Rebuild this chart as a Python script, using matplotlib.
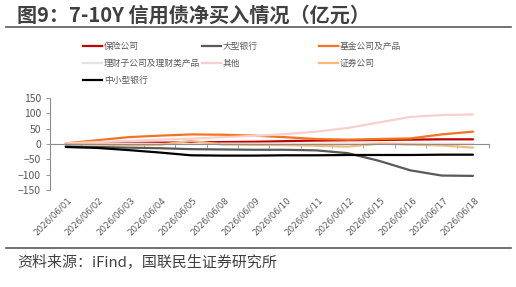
import numpy as np
import matplotlib
matplotlib.use('Agg')
import matplotlib.pyplot as plt
from matplotlib.transforms import blended_transform_factory

plt.rcParams['font.family'] = ['Noto Sans CJK SC', 'DejaVu Sans']

dates = ['2026/06/01', '2026/06/02', '2026/06/03', '2026/06/04', '2026/06/05',
         '2026/06/08', '2026/06/09', '2026/06/10', '2026/06/11', '2026/06/12',
         '2026/06/15', '2026/06/16', '2026/06/17', '2026/06/18']

insurance = [0, 2, 3, 4, 5, 6, 7, 9, 11, 12, 13, 14, 15, 15]
big_bank = [-8, -10, -12, -14, -17, -18, -19, -19, -21, -30, -55, -86, -103, -104]
fund = [2, 12, 22, 27, 31, 30, 27, 22, 16, 14, 16, 18, 31, 40]
wealth = [0, 1, 1, 0, 0, 1, 1, 0, 1, 2, 2, 1, 1, 0]
other = [2, 6, 10, 14, 17, 22, 26, 32, 40, 52, 70, 88, 94, 96]
broker = [0, -2, -4, -3, 10, -2, -3, -4, -6, -9, 1, -2, -5, -12]
small_bank = [-10, -13, -20, -28, -37, -38, -38, -37, -37, -36, -36, -36, -35, -35]

series = [
    ('保险公司', insurance, '#C00000'),
    ('大型银行', big_bank, '#595959'),
    ('基金公司及产品', fund, '#F4731F'),
    ('理财子公司及理财类产品', wealth, '#E3E3E3'),
    ('其他', other, '#F8CFCF'),
    ('证券公司', broker, '#F9B97A'),
    ('中小型银行', small_bank, '#000000'),
]

W, H = 516, 287
fig = plt.figure(figsize=(W / 100, H / 100), dpi=100)
ax = fig.add_axes([0.097, 0.338, 0.85, 0.321])

x = np.arange(len(dates))
for name, vals, col in series:
    ax.plot(x, vals, color=col, lw=1.6, label=name, solid_capstyle='round')

ax.set_xlim(-0.5, len(dates) - 0.5)
ax.set_ylim(-150, 150)
ax.set_yticks([-150, -100, -50, 0, 50, 100, 150])
ax.tick_params(axis='y', labelsize=7.5, colors='#8c8c8c', length=3, width=0.6)
for lbl in ax.get_yticklabels():
    lbl.set_color('#595959')

for s in ['top', 'right']:
    ax.spines[s].set_visible(False)
ax.spines['left'].set_color('#8c8c8c')
ax.spines['left'].set_linewidth(0.8)
ax.spines['bottom'].set_position(('data', 0))
ax.spines['bottom'].set_color('#8c8c8c')
ax.spines['bottom'].set_linewidth(0.8)
ax.set_xticks(np.arange(len(dates) + 1) - 0.5)
ax.tick_params(axis='x', labelbottom=False, length=3, width=0.6, colors='#8c8c8c')

tr = blended_transform_factory(ax.transData, ax.transAxes)
for i, d in enumerate(dates):
    ax.text(i + 0.05, -0.06, d, transform=tr, rotation=45, ha='right', va='top',
            rotation_mode='anchor', fontsize=6.2, color='#595959', family='DejaVu Sans')

# legend laid out by hand: 3 columns, row-wise order
col_x = [83, 202, 319]
row_y = [46, 63, 80]
for k, (name, vals, col) in enumerate(series):
    cx = col_x[k % 3]
    ry = 1 - row_y[k // 3] / H
    fig.add_artist(plt.Line2D([cx / W, (cx + 19) / W], [ry, ry], color=col, lw=1.6))
    fig.text((cx + 21) / W, ry, name, fontsize=6.3, color='#595959', va='center', ha='left')

fig.text(17 / W, 1 - 15 / H, '图9：7-10Y 信用债净买入情况（亿元）', fontsize=14.5, fontweight='bold',
         color='#404040', va='center', ha='left')
fig.add_artist(plt.Line2D([6 / W, 511 / W], [1 - 27 / H, 1 - 27 / H], color='#595959', lw=1.2))
fig.add_artist(plt.Line2D([6 / W, 511 / W], [1 - 248 / H, 1 - 248 / H], color='#595959', lw=1.2))
fig.text(17 / W, 1 - 263 / H, '资料来源：iFind，国联民生证券研究所', fontsize=10.8,
         color='#404040', va='center', ha='left')

fig.savefig('out.png', dpi=100)
